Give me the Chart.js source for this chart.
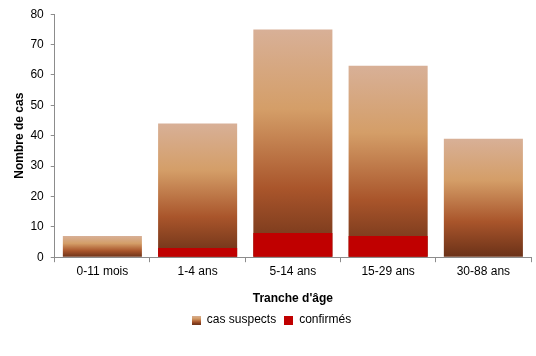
<!DOCTYPE html>
<html>
<head>
<meta charset="utf-8">
<script src="https://cdn.jsdelivr.net/npm/chart.js@4"></script>
<style>
  html, body { margin: 0; padding: 0; background: #fff; }
  #wrap { width: 536px; height: 356px; }
</style>
</head>
<body>
<div id="wrap"><canvas id="cas"></canvas></div>
<script>
// donnees
const tranches = ['0-11 mois', '1-4 ans', '5-14 ans', '15-29 ans', '30-88 ans'];
const casSuspects = [7, 44, 75, 63, 39];
const casConfirmes = [0, 3, 8, 7, 0];
const yTicks = [0, 10, 20, 30, 40, 50, 60, 70, 80];

const FONT = "'Liberation Sans Narrow', 'Liberation Sans', Arial, sans-serif";

function brownGradient(ctx, top, bottom) {
    const g = ctx.createLinearGradient(0, top, 0, bottom);
    g.addColorStop(0, '#D8B097');
    g.addColorStop(0.35, '#D49E68');
    g.addColorStop(0.7, '#A9552B');
    g.addColorStop(1, '#6A3118');
    return g;
}

// petit carre de legende
function legendSwatch(fill) {
    const c = document.createElement('canvas');
    c.width = 9; c.height = 9;
    const x = c.getContext('2d');
    x.fillStyle = fill === 'grad' ? brownGradient(x, 0, 9) : fill;
    x.fillRect(0, 0, 9, 9);
    return c;
}

function barFill(context) {
    const chart = context.chart;
    const y = chart.scales.y;
    if (!y || context.type !== 'data') return '#B8703F';
    const v = context.raw || 0;
    const top = y.getPixelForValue(v);
    const bottom = y.getPixelForValue(0);
    if (bottom - top < 1) return '#B8703F';
    return brownGradient(chart.ctx, top, bottom);
}

const swatches = [legendSwatch('grad'), legendSwatch('#C00000')];

new Chart(document.getElementById('cas'), {
    type: 'bar',
    data: {
        labels: tranches,
        datasets: [
            {
                label: 'cas suspects',
                data: casSuspects,
                backgroundColor: barFill,
                order: 2,
                barPercentage: 0.83,
                categoryPercentage: 1
            },
            {
                label: 'confirmés',
                data: casConfirmes,
                backgroundColor: '#C00000',
                order: 1,
                barPercentage: 0.83,
                categoryPercentage: 1
            }
        ]
    },
    options: {
        responsive: true,
        maintainAspectRatio: false,
        animation: false,
        layout: { padding: { top: 9, right: 5, left: 12, bottom: 20 } },
        plugins: {
            tooltip: { enabled: false },
            legend: {
                position: 'bottom',
                labels: {
                    color: '#000',
                    font: { family: FONT, size: 12 },
                    usePointStyle: true,
                    boxWidth: 9,
                    boxHeight: 9,
                    padding: 8,
                    sort: (a, b) => a.datasetIndex - b.datasetIndex,
                    generateLabels: (chart) => chart.data.datasets.map((ds, i) => ({
                        text: ds.label,
                        pointStyle: swatches[i],
                        fillStyle: i === 0 ? '#B8703F' : '#C00000',
                        strokeStyle: 'transparent',
                        lineWidth: 0,
                        datasetIndex: i,
                        fontColor: '#000'
                    }))
                }
            }
        },
        scales: {
            x: {
                stacked: true,
                border: { color: '#8C8C8C', width: 1 },
                grid: { display: true, drawOnChartArea: false, offset: true, tickLength: 5, color: '#8C8C8C' },
                ticks: { color: '#000', font: { family: FONT, size: 12 }, padding: 2 },
                title: {
                    display: true,
                    text: "Tranche d'âge",
                    color: '#000',
                    font: { family: FONT, size: 12, weight: 'bold' },
                    padding: { top: 11, bottom: 0 }
                }
            },
            y: {
                stacked: false,
                min: 0,
                max: 80,
                afterBuildTicks: (axis) => { axis.ticks = yTicks.map(v => ({ value: v })); },
                border: { color: '#8C8C8C', width: 1 },
                grid: { display: true, drawOnChartArea: false, tickLength: 4, color: '#8C8C8C' },
                ticks: { color: '#000', font: { family: FONT, size: 12 }, padding: 7 },
                title: {
                    display: true,
                    text: 'Nombre de cas',
                    color: '#000',
                    font: { family: FONT, size: 12, weight: 'bold' },
                    padding: { top: 0, bottom: -3 }
                }
            }
        }
    }
});
</script>
</body>
</html>
